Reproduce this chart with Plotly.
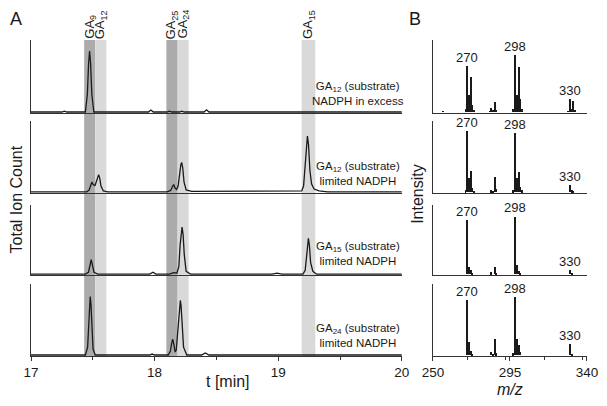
import plotly.graph_objects as go
from plotly.subplots import make_subplots

# chromatograms (t in min, signal)
t_excess = [17.00, 17.25, 17.27, 17.29, 17.44, 17.456, 17.466, 17.474, 17.482, 17.492, 17.508, 17.55,
            17.95, 17.97, 17.99, 18.10, 18.12, 18.14, 18.20, 18.22, 18.24, 18.40, 18.42, 18.44,
            19.10, 19.20, 19.30, 20.00]
y_excess = [0, 0, 0.8, 0, 0, 18, 49, 61, 49, 18, 0, 0,
            0, 2, 0, 0, 0.8, 0, 0, 0.8, 0, 0, 2.2, 0,
            0, 0.6, 0, 0]

t_ga12 = [17.00, 17.30, 17.45, 17.47, 17.484, 17.493, 17.505, 17.518, 17.53, 17.540, 17.547, 17.556,
          17.566, 17.585, 17.62, 18.10, 18.13, 18.145, 18.154, 18.165, 18.178, 18.19, 18.203, 18.212,
          18.219, 18.227, 18.238, 18.255, 18.30, 18.90, 19.10, 19.19, 19.205, 19.217, 19.228, 19.236,
          19.245, 19.256, 19.27, 19.29, 19.33, 19.40, 20.00]
y_ga12 = [0, 0, 0, 2, 7.5, 10, 7, 6.5, 11, 16, 17.6, 14,
          6, 1, 0, 0, 1.5, 5.5, 7.6, 4, 2.5, 6, 20, 27.5,
          30, 25, 10, 2, 0.5, 0.5, 1, 1, 6, 24, 47, 56.6,
          48, 22, 8, 3, 1, 0, 0]

t_ga15 = [17.00, 17.44, 17.465, 17.478, 17.487, 17.496, 17.51, 17.54, 17.96, 17.987, 18.01, 18.12,
          18.154, 18.18, 18.196, 18.206, 18.214, 18.222, 18.230, 18.240, 18.255, 18.29, 18.95, 18.99,
          19.03, 19.20, 19.218, 19.230, 19.237, 19.244, 19.252, 19.262, 19.28, 19.31, 20.00]
y_ga15 = [0, 0, 2, 10, 15, 10, 2, 0, 0, 2, 0, 0,
          1.5, 1, 8, 30, 44, 49, 42, 20, 3, 0, 0, 1,
          0, 0, 4, 20, 32, 37.3, 30, 12, 3, 0, 0]

t_ga24 = [17.00, 17.20, 17.22, 17.24, 17.44, 17.458, 17.468, 17.474, 17.479, 17.485, 17.492, 17.502,
          17.52, 17.96, 17.98, 18.00, 18.11, 18.128, 18.138, 18.146, 18.155, 18.166, 18.175, 18.187,
          18.198, 18.203, 18.208, 18.214, 18.222, 18.234, 18.26, 18.38, 18.41, 18.44, 19.00, 20.00]
y_ga24 = [0, 0, 0.6, 0, 0, 8, 35, 53, 59.3, 52, 30, 6,
          0, 0, 1, 0, 0, 4, 12, 16, 11, 3, 5, 25,
          47, 53, 55.3, 50, 33, 8, 0, 0, 2, 0, 0, 0]

# mass spectra (m/z, intensity)
mz_excess = [256, 269, 270, 271, 272, 273, 274, 283, 284, 285, 286, 287, 297, 298, 299, 300, 301, 302, 329, 330, 331, 332, 333]
i_excess = [1, 3, 46, 17, 35, 7, 2, 1, 4, 2, 10, 2, 3, 57, 17, 45, 13, 3, 1, 13, 3, 11, 2]

mz_ga12 = [269, 270, 271, 272, 273, 274, 284, 285, 286, 287, 297, 298, 299, 300, 301, 302, 330, 331, 332]
i_ga12 = [2, 62, 14, 21, 4, 1, 2, 1, 15, 3, 2, 60, 14, 20, 5, 2, 7, 2, 1]

mz_ga15 = [270, 271, 272, 273, 284, 286, 287, 298, 299, 300, 301, 330, 331]
i_ga15 = [56, 8, 4, 1, 2, 8, 1, 60, 10, 3, 1, 4, 1]

mz_ga24 = [270, 271, 272, 273, 284, 285, 286, 287, 297, 298, 299, 300, 301, 330, 331]
i_ga24 = [56, 13, 4, 1, 3, 1, 16, 2, 2, 59, 16, 10, 3, 11, 1]

label_mz = [270, 298, 330]

conditions = ["GA<sub>12</sub> (substrate)<br>NADPH in excess",
              "GA<sub>12</sub> (substrate)<br>limited NADPH",
              "GA<sub>15</sub> (substrate)<br>limited NADPH",
              "GA<sub>24</sub> (substrate)<br>limited NADPH"]

# retention windows: (start, end, label, dark?)
bands = [(17.43, 17.52, "GA<sub>9</sub>", True),
         (17.52, 17.61, "GA<sub>12</sub>", False),
         (18.095, 18.186, "GA<sub>25</sub>", True),
         (18.186, 18.275, "GA<sub>24</sub>", False),
         (19.19, 19.30, "GA<sub>15</sub>", False)]

chroms = [(t_excess, y_excess), (t_ga12, y_ga12), (t_ga15, y_ga15), (t_ga24, y_ga24)]
spectra = [(mz_excess, i_excess), (mz_ga12, i_ga12), (mz_ga15, i_ga15), (mz_ga24, i_ga24)]

ink = "#1a1a1a"
font = "Arial, Liberation Sans, sans-serif"

fig = make_subplots(rows=4, cols=2)

y_domains = [[0.769, 1.0], [0.516, 0.744], [0.256, 0.478], [0.0, 0.228]]
cond_y = [0.831, 0.578, 0.323, 0.065]


def paper_text(text, x, y, size, angle=0):
    fig.add_annotation(text=text, xref="paper", yref="paper", x=x, y=y, textangle=angle,
                       xanchor="center", yanchor="middle", showarrow=False, align="center",
                       borderpad=0, borderwidth=0,
                       font=dict(size=size, color=ink, family=font))


for r in range(4):
    t, y = chroms[r]
    fig.add_trace(go.Scatter(x=t, y=y, mode="lines", line=dict(color=ink, width=1.3),
                             showlegend=False, hoverinfo="skip"), row=r + 1, col=1)
    mz, inten = spectra[r]
    fig.add_trace(go.Bar(x=mz, y=inten, width=0.55, marker=dict(color=ink, line=dict(width=0)),
                         showlegend=False, hoverinfo="skip"), row=r + 1, col=2)
    last = r == 3
    common = dict(showline=True, linecolor="#333", linewidth=1.3, showgrid=False, zeroline=False,
                  automargin=False, tickfont=dict(size=13.5, color=ink, family=font))
    fig.update_xaxes(range=[17, 20], domain=[0, 0.667], row=r + 1, col=1,
                     tickvals=[17, 18, 19, 20] if last else [], ticks="outside" if last else "",
                     ticklen=4, tickcolor="#333",
                     minor=dict(ticks="outside", dtick=0.5, ticklen=3, tickcolor="#333") if last else None,
                     showticklabels=last, **common)
    fig.update_xaxes(range=[250, 340], domain=[0.723, 1.0], row=r + 1, col=2,
                     tickvals=[250, 295, 340] if last else [], ticks="outside" if last else "",
                     ticklen=4, tickcolor="#333",
                     minor=dict(ticks="outside", dtick=22.5, ticklen=3, tickcolor="#333") if last else None,
                     showticklabels=last, **common)
    for c in (1, 2):
        fig.update_yaxes(range=[-1, 72], domain=y_domains[r], row=r + 1, col=c,
                         showticklabels=False, ticks="", **common)

    # condition text
    paper_text(conditions[r], 0.589, cond_y[r], 11.5)

    # m/z labels on spectra
    xa = "x%d" % (2 * r + 2)
    ya = "y%d" % (2 * r + 2)
    for m in label_mz:
        h = inten[mz.index(m)]
        fig.add_annotation(text=str(m), x=m, y=h, xref=xa, yref=ya, showarrow=False,
                           xanchor="center", yanchor="bottom", yshift=-1,
                           font=dict(size=13, color=ink, family=font))

for x0, x1, name, dark in bands:
    fig.add_shape(type="rect", xref="x", yref="paper", x0=x0, x1=x1, y0=0, y1=1,
                  fillcolor="#ababab" if dark else "#d9d9d9", line=dict(width=0), layer="below")
    fig.add_annotation(text=name, x=(x0 + x1) / 2, y=1, xref="x", yref="paper", textangle=-90,
                       xanchor="center", yanchor="bottom", showarrow=False, yshift=-1,
                       font=dict(size=13, color=ink, family=font))

paper_text("A", -0.027, 1.068, 18)
paper_text("B", 0.691, 1.068, 18)
paper_text("Total Ion Count", -0.026, 0.494, 16, -90)
paper_text("Intensity", 0.696, 0.513, 16, -90)
paper_text("t [min]", 0.354, -0.082, 16)
paper_text("<i>m/z</i>", 0.861, -0.106, 16)

# the page body adds an 8px offset, so margins are shifted to compensate
fig.update_layout(width=607, height=406, margin=dict(l=23, r=28, t=32, b=58),
                  template="none", paper_bgcolor="white", plot_bgcolor="rgba(0,0,0,0)", bargap=0,
                  font=dict(family=font, color=ink))

fig.write_html("out.html")
